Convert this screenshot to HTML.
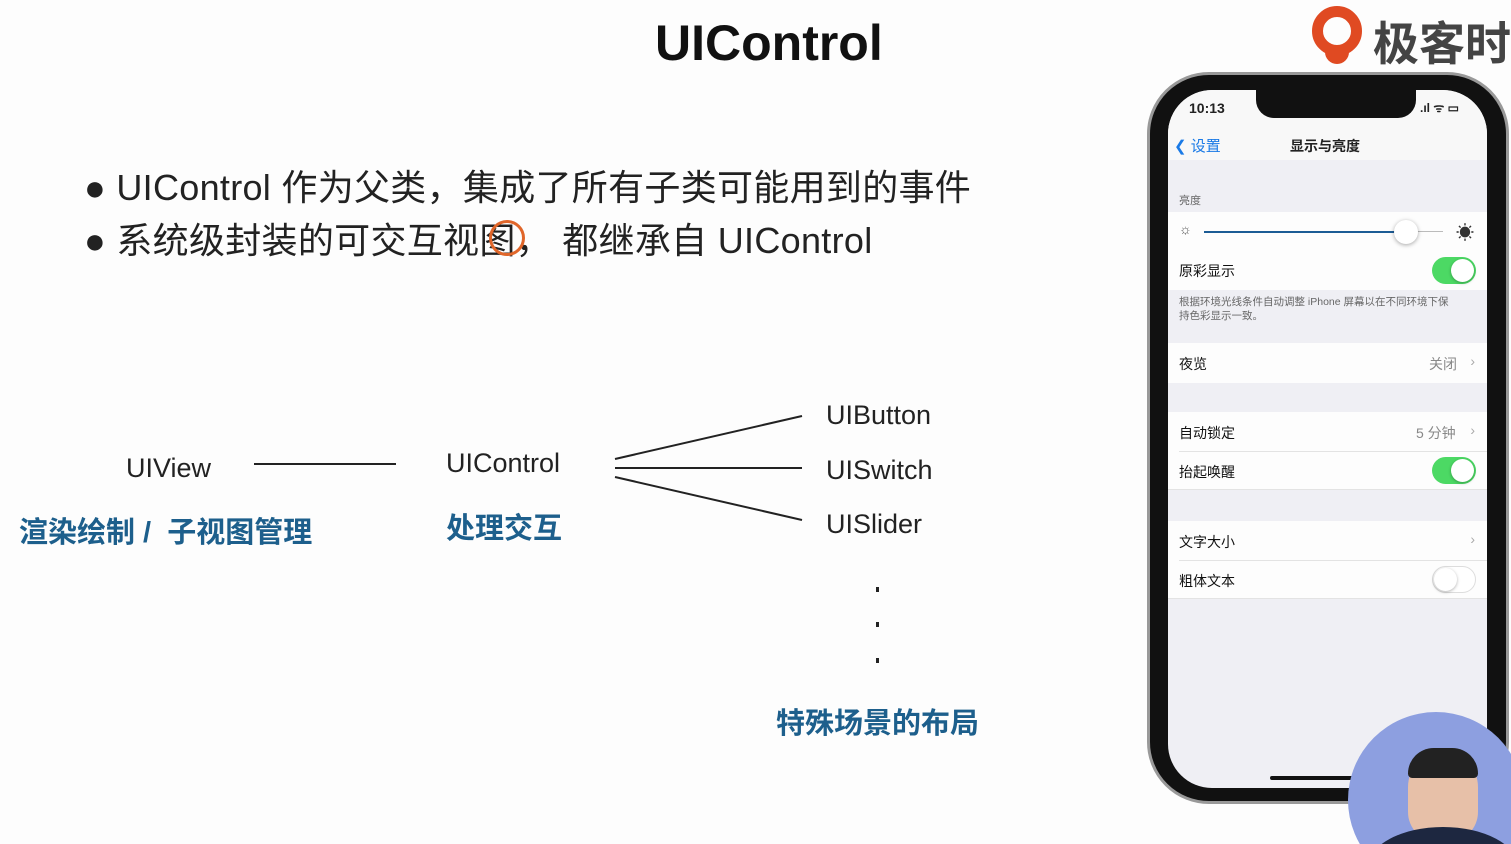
<!DOCTYPE html>
<html><head><meta charset="utf-8"><style>
*{margin:0;padding:0;box-sizing:border-box}
html{width:1511px;height:844px;overflow:hidden}
body{width:1511px;height:844px;overflow:hidden;background:#fdfdfd;position:relative;font-family:"Liberation Sans","Noto Sans CJK SC",sans-serif;color:#222}
.a{position:absolute;white-space:nowrap}
.blue{color:#1d5f8c;font-weight:bold}
.row{position:absolute;left:0;width:319px;background:#fdfdfd;font-size:14px;color:#111}
.row span{position:absolute;left:11px}
.sw{position:absolute;right:11px;width:44px;height:27px;border-radius:14px;background:#4cd964}
.sw::after{content:"";position:absolute;right:2px;top:2px;width:23px;height:23px;border-radius:50%;background:#fff;box-shadow:0 1px 3px rgba(0,0,0,.3)}
.off{background:#fff;border:1.5px solid #ddd}
.off::after{left:1px;right:auto;top:1px}
.chev{position:absolute;right:12px;color:#aaa;font-size:14px}
</style></head><body>
<div class="a" style="left:655px;top:14px;font-size:50px;font-weight:bold;color:#111">UIControl</div>
<div class="a" style="left:84px;top:159px;font-size:36px;letter-spacing:0.3px;color:#222">● UIControl 作为父类，集成了所有子类可能用到的事件</div>
<div class="a" style="left:84px;top:212px;font-size:36px;letter-spacing:0.3px;color:#222">● 系统级封装的可交互视图，&nbsp;都继承自 UIControl</div>
<div class="a" style="left:489px;top:220px;width:36px;height:36px;border:3px solid #e0662a;border-radius:50%"></div>

<svg class="a" style="left:0;top:0" width="1000" height="800">
<g stroke="#222" stroke-width="2">
<line x1="254" y1="464" x2="396" y2="464"/>
<line x1="615" y1="459" x2="802" y2="416"/>
<line x1="615" y1="468" x2="802" y2="468"/>
<line x1="615" y1="477" x2="802" y2="520"/>
</g>
<rect x="876" y="587" width="3" height="5" fill="#222"/>
<rect x="876" y="622" width="3" height="5" fill="#222"/>
<rect x="876" y="658" width="3" height="5" fill="#222"/>
</svg>
<div class="a" style="left:126px;top:453px;font-size:27px">UIView</div>
<div class="a" style="left:446px;top:448px;font-size:27px">UIControl</div>
<div class="a" style="left:826px;top:400px;font-size:27px">UIButton</div>
<div class="a" style="left:826px;top:455px;font-size:27px">UISwitch</div>
<div class="a" style="left:826px;top:509px;font-size:27px">UISlider</div>
<div class="a blue" style="left:19px;top:509px;font-size:29px">渲染绘制 /&nbsp;&nbsp;子视图管理</div>
<div class="a blue" style="left:446px;top:505px;font-size:29px">处理交互</div>
<div class="a blue" style="left:776px;top:700px;font-size:29px">特殊场景的布局</div>

<!-- logo -->
<div class="a" style="left:1312px;top:6px;width:50px;height:50px;border-radius:50%;border:11px solid #e04a22"></div>
<div class="a" style="left:1325px;top:52px;width:24px;height:12px;background:#e04a22;border-radius:0 0 12px 12px"></div>
<div class="a" style="left:1373px;top:8px;font-size:46px;font-weight:bold;color:#444">极客时</div>

<!-- phone -->
<div class="a" style="left:1147px;top:72px;width:362px;height:732px;border-radius:62px;background:#111;border:3px solid #999"></div>
<div class="a" style="left:1168px;top:90px;width:319px;height:698px;border-radius:44px;background:#efeff4;overflow:hidden">
 <div style="position:absolute;left:0;top:0;width:319px;height:70px;background:#f8f8f8"></div>
 <div style="position:absolute;left:88px;top:-2px;width:160px;height:30px;background:#111;border-radius:0 0 18px 18px"></div>
 <div class="a" style="left:21px;top:10px;font-size:14px;font-weight:bold">10:13</div>
 <div class="a" style="left:252px;top:9px;font-size:12px;font-weight:bold">.ıl ᯤ ▭</div>
 <div class="a" style="left:6px;top:45px;font-size:15px;color:#1a7ae6">❮ 设置</div>
 <div class="a" style="left:122px;top:46px;font-size:14px;font-weight:bold">显示与亮度</div>
 <div class="a" style="left:11px;top:102px;font-size:11px;color:#666">亮度</div>
 <div class="row" style="top:122px;height:38px">
  <span style="top:9px;color:#555">☼</span>
  <div style="position:absolute;left:36px;top:19px;width:205px;height:2px;background:#1c5c95"></div>
  <div style="position:absolute;left:241px;top:19px;width:34px;height:1px;background:#bbb"></div>
  <div style="position:absolute;left:226px;top:8px;width:24px;height:24px;border-radius:50%;background:#fff;box-shadow:0 1px 4px rgba(0,0,0,.35)"></div>
  <span style="left:288px;top:7px;font-size:18px;color:#333">☀</span>
 </div>
 <div class="row" style="top:160px;height:40px"><span style="top:11px">原彩显示</span><div class="sw" style="top:7px"></div></div>
 <div class="a" style="left:11px;top:205px;font-size:10.5px;color:#666;line-height:14px">根据环境光线条件自动调整 iPhone 屏幕以在不同环境下保<br>持色彩显示一致。</div>
 <div class="row" style="top:253px;height:40px"><span style="top:11px">夜览</span><span style="left:261px;top:11px;color:#888">关闭</span><div class="chev" style="top:10px">›</div></div>
 <div class="row" style="top:322px;height:78px;border-bottom:1px solid #e3e3e3"><span style="top:11px">自动锁定</span><span style="left:248px;top:11px;color:#888">5 分钟</span><div class="chev" style="top:10px">›</div>
  <div style="position:absolute;left:11px;right:0;top:39px;height:1px;background:#e3e3e3"></div>
  <span style="top:50px">抬起唤醒</span><div class="sw" style="top:45px"></div></div>
 <div class="row" style="top:431px;height:78px;border-bottom:1px solid #e3e3e3"><span style="top:11px">文字大小</span><div class="chev" style="top:10px">›</div>
  <div style="position:absolute;left:11px;right:0;top:39px;height:1px;background:#e3e3e3"></div>
  <span style="top:50px">粗体文本</span><div class="sw off" style="top:45px"></div></div>
 <div style="position:absolute;left:102px;top:686px;width:115px;height:4px;border-radius:2px;background:#111"></div>
</div>
<!-- presenter -->
<div class="a" style="left:1348px;top:712px;width:163px;height:132px;overflow:hidden">
<div style="position:absolute;left:0;top:0;width:176px;height:176px;border-radius:50%;background:#8d9fe0;overflow:hidden">
 <div style="position:absolute;left:60px;top:40px;width:70px;height:90px;border-radius:35px 35px 30px 30px;background:#e7c0a8"></div>
 <div style="position:absolute;left:60px;top:36px;width:70px;height:30px;border-radius:35px 35px 6px 6px;background:#222"></div>
 <div style="position:absolute;left:20px;top:115px;width:150px;height:80px;border-radius:50% 50% 0 0;background:#1d2740"></div>
</div>
</div>
</body></html>
